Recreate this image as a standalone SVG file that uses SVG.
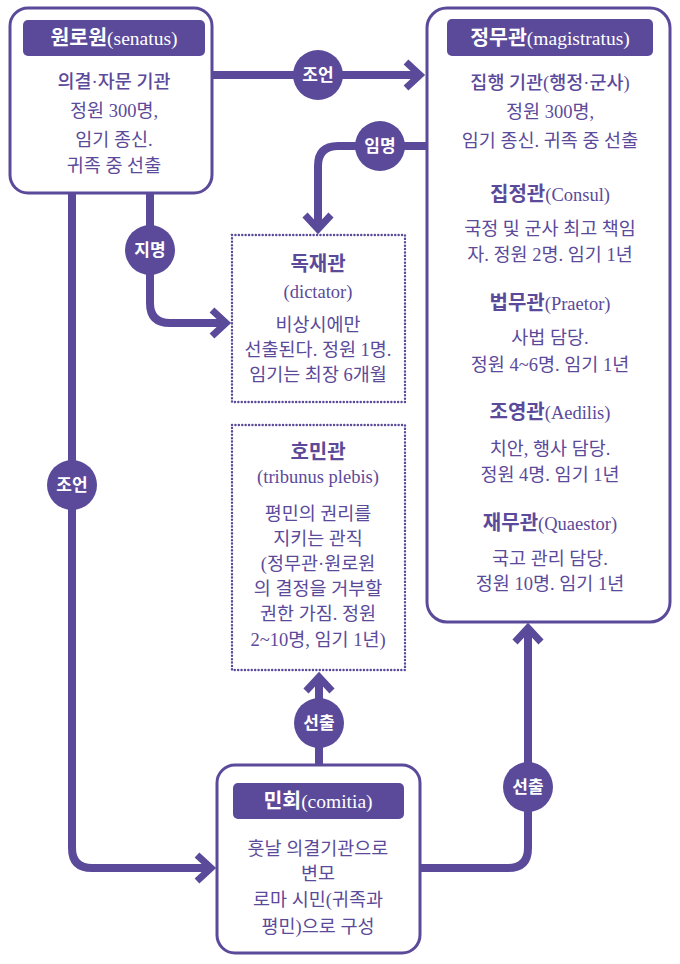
<svg xmlns="http://www.w3.org/2000/svg" width="680" height="964" viewBox="0 0 680 964">
<style>
.box{fill:#fff;stroke:#5b4a9a;stroke-width:3}
.dot{fill:#fff;stroke:#5b4a9a;stroke-width:2.4;stroke-dasharray:0.1 3.3;stroke-linecap:round}
.hdr{fill:#5b4a9a}
.ht{font-family:"Liberation Serif","Noto Sans CJK KR",serif;font-size:19.5px;fill:#fff;text-anchor:middle}
.t{font-family:"Liberation Serif","Noto Sans CJK KR",serif;font-size:18.5px;fill:#5b4a9a;text-anchor:middle}
.m{font-weight:500}
.b{font-weight:bold;font-size:20px}
.con{fill:none;stroke:#5b4a9a;stroke-width:8}
.lc{fill:#5b4a9a}
.lt{font-family:"Noto Sans CJK KR",sans-serif;font-size:17px;font-weight:bold;fill:#fff;text-anchor:middle}
</style>
<defs>
<marker id="arr" markerUnits="userSpaceOnUse" viewBox="-24 -18 32 36" refX="0" refY="0" markerWidth="32" markerHeight="36" orient="auto">
<path d="M-14,-13 L0,0 L-14,13" fill="none" stroke="#5b4a9a" stroke-width="7"/>
</marker>
</defs>
<g id="connectors">
<path class="con" d="M212,75 H420" marker-end="url(#arr)"/>
<path class="con" d="M427,146 H338 Q318,146 318,166 V229" marker-end="url(#arr)"/>
<path class="con" d="M150,193 V303 Q150,323 170,323 H226" marker-end="url(#arr)"/>
<path class="con" d="M72,193 V848 Q72,868 92,868 H211" marker-end="url(#arr)"/>
<path class="con" d="M319,765 V677" marker-end="url(#arr)"/>
<path class="con" d="M420,868 H508 Q528,868 528,848 V628" marker-end="url(#arr)"/>
<circle class="lc" cx="318" cy="75" r="25"/><text class="lt" x="318" y="81">조언</text>
<circle class="lc" cx="380" cy="146" r="25"/><text class="lt" x="380" y="152">임명</text>
<circle class="lc" cx="150" cy="250" r="25"/><text class="lt" x="150" y="256">지명</text>
<circle class="lc" cx="72" cy="485" r="25"/><text class="lt" x="72" y="491">조언</text>
<circle class="lc" cx="319" cy="723" r="25"/><text class="lt" x="319" y="729">선출</text>
<circle class="lc" cx="528" cy="787" r="25"/><text class="lt" x="528" y="793">선출</text>
</g>
<g id="senatus">
<rect class="box" x="10" y="8" width="202" height="185" rx="18"/>
<rect class="hdr" x="23" y="20" width="182" height="36" rx="5"/>
<text class="ht" x="114" y="45"><tspan font-weight="bold" font-size="20.5">원로원</tspan>(senatus)</text>
<text class="t m" x="114" y="88">의결·자문 기관</text>
<text class="t" x="114" y="117">정원 300명,</text>
<text class="t" x="114" y="146">임기 종신.</text>
<text class="t" x="114" y="172">귀족 중 선출</text>
</g>
<g id="magistratus">
<rect class="box" x="427" y="8" width="243" height="614" rx="20"/>
<rect class="hdr" x="447" y="19" width="206" height="37" rx="5"/>
<text class="ht" x="550" y="45"><tspan font-weight="bold" font-size="20.5">정무관</tspan>(magistratus)</text>
<text class="t m" x="550" y="89">집행 기관(행정·군사)</text>
<text class="t" x="550" y="118">정원 300명,</text>
<text class="t" x="550" y="147">임기 종신. 귀족 중 선출</text>
<text class="t" x="550" y="201"><tspan class="b">집정관</tspan>(Consul)</text>
<text class="t" x="550" y="235">국정 및 군사 최고 책임</text>
<text class="t" x="550" y="261">자. 정원 2명. 임기 1년</text>
<text class="t" x="550" y="310"><tspan class="b">법무관</tspan>(Praetor)</text>
<text class="t" x="550" y="344">사법 담당.</text>
<text class="t" x="550" y="371">정원 4~6명. 임기 1년</text>
<text class="t" x="550" y="419"><tspan class="b">조영관</tspan>(Aedilis)</text>
<text class="t" x="550" y="455">치안, 행사 담당.</text>
<text class="t" x="550" y="481">정원 4명. 임기 1년</text>
<text class="t" x="550" y="530"><tspan class="b">재무관</tspan>(Quaestor)</text>
<text class="t" x="550" y="565">국고 관리 담당.</text>
<text class="t" x="550" y="590">정원 10명. 임기 1년</text>
</g>
<g id="dictator">
<rect class="dot" x="232" y="235" width="173" height="167"/>
<text class="t b" x="318" y="271">독재관</text>
<text class="t" x="318" y="298">(dictator)</text>
<text class="t" x="318" y="331">비상시에만</text>
<text class="t" x="318" y="356">선출된다. 정원 1명.</text>
<text class="t" x="318" y="381">임기는 최장 6개월</text>
</g>
<g id="tribunus">
<rect class="dot" x="232" y="425" width="173" height="245"/>
<text class="t b" x="318" y="459">호민관</text>
<text class="t" x="318" y="483">(tribunus plebis)</text>
<text class="t" x="318" y="520">평민의 권리를</text>
<text class="t" x="318" y="545">지키는 관직</text>
<text class="t" x="318" y="570">(정무관·원로원</text>
<text class="t" x="318" y="595">의 결정을 거부할</text>
<text class="t" x="318" y="620">권한 가짐. 정원</text>
<text class="t" x="318" y="646">2~10명, 임기 1년)</text>
</g>
<g id="comitia">
<rect class="box" x="217" y="765" width="203" height="188" rx="18"/>
<rect class="hdr" x="233" y="783" width="171" height="36" rx="5"/>
<text class="ht" x="318" y="808"><tspan font-weight="bold" font-size="20.5">민회</tspan>(comitia)</text>
<text class="t" x="318" y="855">훗날 의결기관으로</text>
<text class="t" x="318" y="880">변모</text>
<text class="t" x="318" y="906">로마 시민(귀족과</text>
<text class="t" x="318" y="933">평민)으로 구성</text>
</g>
</svg>
